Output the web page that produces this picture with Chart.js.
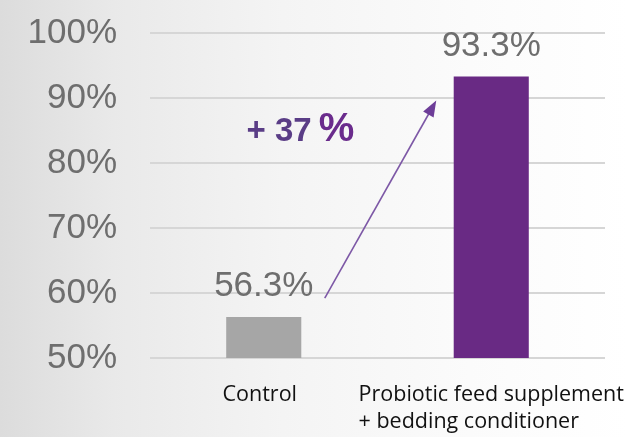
<!DOCTYPE html>
<html>
<head>
<meta charset="utf-8">
<script src="https://cdn.jsdelivr.net/npm/chart.js@4/dist/chart.umd.min.js"></script>
<style>
  html, body { margin: 0; padding: 0; }
  body {
    width: 627px; height: 437px; overflow: hidden;
    background: linear-gradient(to right, #dcdcdc 0%, #e9e9e9 18%, #f4f4f4 45%, #fbfbfb 75%, #ffffff 100%);
  }
  canvas { display: block; }
</style>
</head>
<body>
<canvas id="chart" width="627" height="437"></canvas>
<script>
const categories = [['Control'], ['Probiotic feed supplement', '+ bedding conditioner']];
const survivalRates = [56.3, 93.3];
const barColors = ['#a6a6a6', '#692a84'];
const yTickValues = [50, 60, 70, 80, 90, 100];

// value labels above bars, the gain arrow and the left-aligned category names
const annotations = {
    id: 'annotations',
    afterDatasetsDraw(chart) {
        const ctx = chart.ctx;
        const x = chart.scales.x;
        const y = chart.scales.y;
        const meta = chart.getDatasetMeta(0);

        ctx.save();
        ctx.fillStyle = '#6e6e6e';
        ctx.font = '35px "Liberation Sans", Arial, sans-serif';
        ctx.textAlign = 'center';
        ctx.textBaseline = 'alphabetic';
        meta.data.forEach((bar, i) => {
            ctx.fillText(survivalRates[i].toFixed(1) + '%', bar.x, bar.y - 21);
        });

        // arrow from control to treatment
        const x0 = x.getPixelForValue(0) + 61;
        const y0 = y.getPixelForValue(survivalRates[0]) - 19;
        const x1 = x.getPixelForValue(1) - 55;
        const y1 = y.getPixelForValue(survivalRates[1]) + 24;
        const ang = Math.atan2(y1 - y0, x1 - x0);
        ctx.strokeStyle = '#7d58a6';
        ctx.fillStyle = '#6d3d98';
        ctx.lineWidth = 1.6;
        ctx.beginPath();
        ctx.moveTo(x0, y0);
        ctx.lineTo(x1 - 10 * Math.cos(ang), y1 - 10 * Math.sin(ang));
        ctx.stroke();
        ctx.beginPath();
        ctx.moveTo(x1, y1);
        ctx.lineTo(x1 - 16 * Math.cos(ang) + 6 * Math.sin(ang), y1 - 16 * Math.sin(ang) - 6 * Math.cos(ang));
        ctx.lineTo(x1 - 16 * Math.cos(ang) - 6 * Math.sin(ang), y1 - 16 * Math.sin(ang) + 6 * Math.cos(ang));
        ctx.closePath();
        ctx.fill();

        // gain label
        const gain = Math.round(survivalRates[1] - survivalRates[0]);
        const mid = (x.getPixelForValue(0) + x.getPixelForValue(1)) / 2;
        const base = y.getPixelForValue(survivalRates[1]) + 64;
        ctx.fillStyle = '#5a3d86';
        ctx.textAlign = 'left';
        ctx.font = 'bold 33px "Liberation Sans", Arial, sans-serif';
        const first = '+ ' + gain;
        ctx.fillText(first, mid - 131, base);
        const w = ctx.measureText(first).width;
        ctx.fillStyle = '#6a2b8c';
        ctx.font = 'bold 40px "Liberation Sans", Arial, sans-serif';
        ctx.fillText('%', mid - 131 + w + 7, base);

        // category names, lines left aligned inside a block centred on the tick
        ctx.fillStyle = '#111111';
        ctx.font = '21.5px "Open Sans", sans-serif';
        categories.forEach((lines, i) => {
            const cx = x.getPixelForValue(i);
            const widest = Math.max(...lines.map(l => ctx.measureText(l).width));
            lines.forEach((line, j) => {
                ctx.fillText(line, cx - widest / 2 - (lines.length === 1 ? 4 : 0), y.bottom + 43 + j * 27);
            });
        });
        ctx.restore();
    }
};

new Chart(document.getElementById('chart'), {
    type: 'bar',
    data: {
        labels: categories,
        datasets: [{
            data: survivalRates,
            backgroundColor: barColors,
            barPercentage: 0.66,
            categoryPercentage: 0.5
        }]
    },
    options: {
        responsive: false,
        animation: false,
        devicePixelRatio: 1,
        layout: { padding: { left: 28, right: 22, top: 33, bottom: 79 } },
        plugins: { legend: { display: false }, tooltip: { enabled: false } },
        scales: {
            x: {
                display: false
            },
            y: {
                min: 50,
                max: 100,
                afterBuildTicks: scale => { scale.ticks = yTickValues.map(v => ({ value: v })); },
                afterFit: scale => {
                    // tick padding would otherwise be added above the top label too
                    scale.width = 122;
                    scale.paddingTop = 0;
                    scale.paddingBottom = 0;
                },
                ticks: {
                    padding: 33,
                    color: '#6e6e6e',
                    font: { family: '"Liberation Sans", Arial, sans-serif', size: 35 },
                    callback: v => v + '%'
                },
                grid: { color: '#d6d6d6', lineWidth: 2, drawTicks: false },
                border: { display: false }
            }
        }
    },
    plugins: [annotations]
});
</script>
</body>
</html>
